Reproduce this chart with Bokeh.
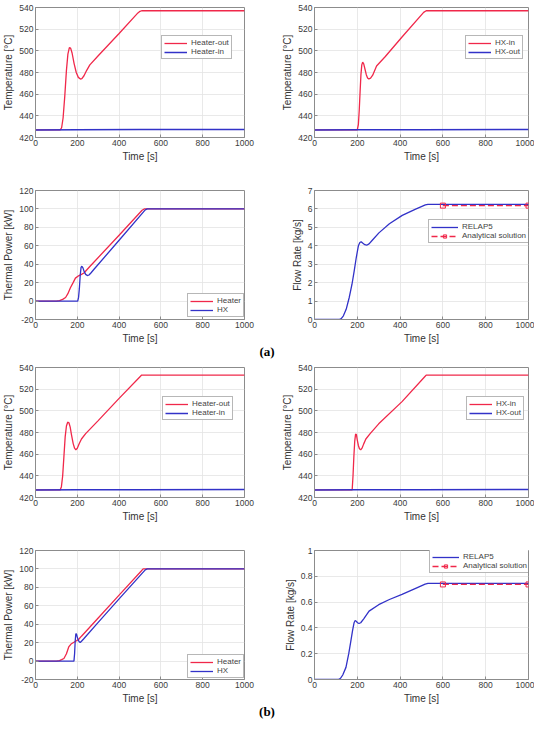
from bokeh.plotting import figure
from bokeh.models import Range1d, FixedTicker, CustomJSTickFormatter, Legend, LegendItem, Div
from bokeh.layouts import column, row
from bokeh.embed import file_html
from bokeh.resources import INLINE

RED = "#f0284a"
BLUE = "#3232c8"
FONT = "Liberation Sans"
GREY = "#8c8c8c"

# ---------------- case (a) ----------------
a_heater_out_t = [0, 118, 125, 132, 140, 148, 155, 162, 168, 175, 185, 195, 205, 215, 222, 232, 245, 260, 300, 400, 490, 500, 508, 520, 1000]
a_heater_out_T = [427, 427, 429, 438, 458, 482, 497, 503, 502.5, 498, 488, 480, 475.5, 474, 474.3, 477, 482, 487, 495.5, 516, 535, 536.5, 537, 537, 537]
a_heater_in_t = [0, 200, 500, 1000]
a_heater_in_T = [427, 427.1, 427.3, 427.4]

a_hx_in_t = [0, 200, 205, 209, 213, 217, 221, 225, 230, 236, 242, 248, 254, 262, 272, 290, 330, 410, 510, 522, 1000]
a_hx_in_T = [427, 427, 432, 445, 462, 478, 487, 489.5, 488, 483, 478, 475, 474, 474.8, 477.5, 486, 494.5, 513, 535.5, 537, 537]
a_hx_out_t = [0, 200, 500, 1000]
a_hx_out_T = [427, 427.1, 427.2, 427.3]

a_pw_heater_t = [0, 100, 115, 130, 144, 155, 167, 180, 191, 206, 220, 232, 260, 400, 510, 520, 1000]
a_pw_heater_P = [0, 0, 0.5, 1.8, 3.9, 8, 14.4, 20, 24.9, 27.4, 29, 30.5, 37.5, 71.5, 98.5, 100, 100]
a_pw_hx_t = [0, 202, 206, 210, 214, 218, 222, 227, 233, 240, 248, 256, 265, 280, 400, 525, 535, 1000]
a_pw_hx_P = [0, 0, 4, 14, 28, 36.5, 37.8, 36, 32, 29, 27.7, 28.3, 30.5, 34.5, 66, 99, 100, 100]

a_flow_t = [0, 115, 125, 135, 148, 162, 175, 185, 195, 205, 212, 218, 225, 235, 244, 255, 270, 301, 350, 410, 470, 518, 530, 1000]
a_flow_F = [0, 0, 0.05, 0.2, 0.55, 1.18, 1.9, 2.6, 3.35, 4.0, 4.18, 4.22, 4.15, 4.06, 4.03, 4.1, 4.3, 4.7, 5.2, 5.65, 5.98, 6.22, 6.25, 6.25]
a_anal_t = [600, 1000]
a_anal_F = [6.18, 6.18]

# ---------------- case (b) ----------------
b_heater_out_t = [0, 118, 124, 130, 136, 142, 148, 154, 160, 166, 172, 180, 187, 193, 200, 210, 220, 240, 300, 400, 500, 508, 515, 1000]
b_heater_out_T = [427, 427, 430, 440, 458, 476, 486, 489.5, 489, 485, 478, 470, 465.5, 464, 465.5, 470, 474, 479, 491, 511.5, 531.5, 533, 533, 533]
b_heater_in_t = [0, 200, 500, 1000]
b_heater_in_T = [427, 427.1, 427.2, 427.3]

b_hx_in_t = [0, 176, 180, 184, 188, 192, 196, 200, 205, 210, 216, 222, 230, 240, 260, 300, 409, 515, 522, 1000]
b_hx_in_T = [427, 427, 440, 458, 472, 478.5, 478, 473, 468, 465, 464, 465.5, 469.5, 474, 479, 488, 508.5, 531.5, 533, 533]
b_hx_out_t = [0, 200, 500, 1000]
b_hx_out_T = [427, 427.1, 427.2, 427.3]

b_pw_heater_t = [0, 100, 115, 125, 136, 148, 159, 170, 180, 190, 198, 206, 220, 300, 400, 505, 515, 1000]
b_pw_heater_P = [0, 0, 0.5, 1.5, 2.8, 8, 15.3, 18.5, 19.9, 21.3, 22.4, 23.4, 27, 46.8, 71.6, 97.5, 100, 100]
b_pw_hx_t = [0, 184, 187, 190, 193, 196, 200, 205, 210, 214, 220, 230, 300, 400, 525, 535, 1000]
b_pw_hx_P = [0, 0, 8, 22, 29.5, 29.5, 26, 22.5, 20.8, 20.2, 21.5, 24, 42, 67.5, 99, 100, 100]

b_flow_t = [0, 112, 122, 132, 147, 160, 170, 178, 185, 190, 195, 201, 208, 216, 230, 255, 300, 350, 409, 470, 517, 530, 1000]
b_flow_F = [0, 0, 0.01, 0.035, 0.094, 0.2, 0.30, 0.38, 0.44, 0.457, 0.452, 0.44, 0.434, 0.44, 0.47, 0.53, 0.58, 0.62, 0.66, 0.705, 0.74, 0.745, 0.745]
b_anal_t = [600, 1000]
b_anal_F = [0.737, 0.737]

x_ticks = [0, 200, 400, 600, 800, 1000]
temp_ticks = [420, 440, 460, 480, 500, 520, 540]
power_ticks = [-20, 0, 20, 40, 60, 80, 100, 120]
flow_a_ticks = [0, 1, 2, 3, 4, 5, 6, 7]
flow_b_ticks = [0, 0.2, 0.4, 0.6, 0.8, 1]

FMT = "return String(Math.round(tick*1000)/1000);"
FH = 130


def make_fig(side, top, bottom, yr, yticks, ylabel):
    if side == "L":
        left, right = 30, 23
    else:
        left, right = 47, 6
    p = figure(width=267, height=top + FH + bottom, min_border_left=left, min_border_right=right,
               min_border_top=top, min_border_bottom=bottom,
               x_range=Range1d(0, 1000), y_range=Range1d(*yr),
               output_backend="svg", toolbar_location=None)
    p.xaxis.ticker = FixedTicker(ticks=x_ticks)
    p.yaxis.ticker = FixedTicker(ticks=yticks)
    p.xaxis.axis_label = "Time [s]"
    p.yaxis.axis_label = ylabel
    for ax in p.axis:
        ax.formatter = CustomJSTickFormatter(code=FMT)
        ax.axis_label_text_font = FONT
        ax.axis_label_text_font_size = "10px"
        ax.axis_label_text_font_style = "normal"
        ax.axis_label_text_color = "#333333"
        ax.major_label_text_font = FONT
        ax.major_label_text_font_size = "8.5px"
        ax.major_label_text_color = "#3a3a3a"
        ax.axis_line_color = GREY
        ax.major_tick_line_color = GREY
        ax.major_tick_in = 3
        ax.major_tick_out = 0
        ax.minor_tick_line_color = None
        ax.major_label_standoff = 2
        ax.axis_label_standoff = 2
    p.outline_line_color = GREY
    p.outline_line_alpha = 1
    p.grid.grid_line_color = "#e3e3e3"
    p.grid.grid_line_width = 0.8
    p.background_fill_color = "white"
    p.border_fill_color = "white"
    return p


def add_legend(p, items, loc, glyph_w=23):
    lg = Legend(items=items, location=loc, label_text_font=FONT, label_text_font_size="8px",
                label_height=8, glyph_height=8, glyph_width=glyph_w, spacing=0, padding=2,
                margin=0, label_standoff=4, border_line_color="#707070", border_line_width=0.8,
                background_fill_color="white", background_fill_alpha=1)
    p.add_layout(lg)


def temp_fig(side, top, bottom, t1, y1, n1, t2, y2, n2, loc):
    p = make_fig(side, top, bottom, (420, 540), temp_ticks, "Temperature [°C]")
    r1 = p.line(t1, y1, line_color=RED, line_width=1.3)
    r2 = p.line(t2, y2, line_color=BLUE, line_width=1.5)
    add_legend(p, [LegendItem(label=n1, renderers=[r1]), LegendItem(label=n2, renderers=[r2])], loc)
    return p


def power_fig(side, top, bottom, t1, y1, t2, y2, loc):
    p = make_fig(side, top, bottom, (-20, 120), power_ticks, "Thermal Power [kW]")
    r1 = p.line(t1, y1, line_color=RED, line_width=1.3)
    r2 = p.line(t2, y2, line_color=BLUE, line_width=1.3)
    add_legend(p, [LegendItem(label="Heater", renderers=[r1]), LegendItem(label="HX", renderers=[r2])], loc)
    return p


def flow_fig(side, top, bottom, yr, yticks, t1, y1, t2, y2, loc):
    p = make_fig(side, top, bottom, yr, yticks, "Flow Rate [kg/s]")
    r1 = p.line(t1, y1, line_color=BLUE, line_width=1.3)
    r2 = p.line(t2, y2, line_color=RED, line_width=1.3, line_dash="6 3")
    r3 = p.scatter(t2, y2, marker="square", size=5, line_color=RED, fill_color=None, line_width=1)
    add_legend(p, [LegendItem(label="RELAP5", renderers=[r1]),
                   LegendItem(label="Analytical solution", renderers=[r2, r3])], loc, glyph_w=27)
    return p


LH = 24  # approx legend height


def top_loc(x, t):
    return (x, FH - t - LH)


f1 = temp_fig("L", 7, 30, a_heater_out_t, a_heater_out_T, "Heater-out",
              a_heater_in_t, a_heater_in_T, "Heater-in", top_loc(126, 28))
f2 = temp_fig("R", 7, 30, a_hx_in_t, a_hx_in_T, "HX-in",
              a_hx_out_t, a_hx_out_T, "HX-out", top_loc(151, 28))
f3 = power_fig("L", 23, 26, a_pw_heater_t, a_pw_heater_P, a_pw_hx_t, a_pw_hx_P, (152, 2))
f4 = flow_fig("R", 23, 26, (0, 7), flow_a_ticks, a_flow_t, a_flow_F, a_anal_t, a_anal_F,
              top_loc(114, 30))
f5 = temp_fig("L", 9, 28, b_heater_out_t, b_heater_out_T, "Heater-out",
              b_heater_in_t, b_heater_in_T, "Heater-in", top_loc(127, 29))
f6 = temp_fig("R", 9, 28, b_hx_in_t, b_hx_in_T, "HX-in",
              b_hx_out_t, b_hx_out_T, "HX-out", top_loc(152, 29))
f7 = power_fig("L", 25, 26, b_pw_heater_t, b_pw_heater_P, b_pw_hx_t, b_pw_hx_P, (152, 1))
f8 = flow_fig("R", 25, 26, (0, 1), flow_b_ticks, b_flow_t, b_flow_F, b_anal_t, b_anal_F,
              top_loc(115, 0))

div_style = {"text-align": "center", "font-family": "Liberation Serif", "font-weight": "bold",
             "font-size": "13px", "line-height": "12px", "width": "534px"}
da = Div(text="(a)", width=534, height=12, margin=(0, 0, 0, 0), styles=div_style)
db = Div(text="(b)", width=534, height=11, margin=(0, 0, 0, 0), styles=div_style)

layout = column(row(f1, f2), row(f3, f4), da, row(f5, f6), row(f7, f8), db)

open("out.html", "w").write(file_html(layout, INLINE))
